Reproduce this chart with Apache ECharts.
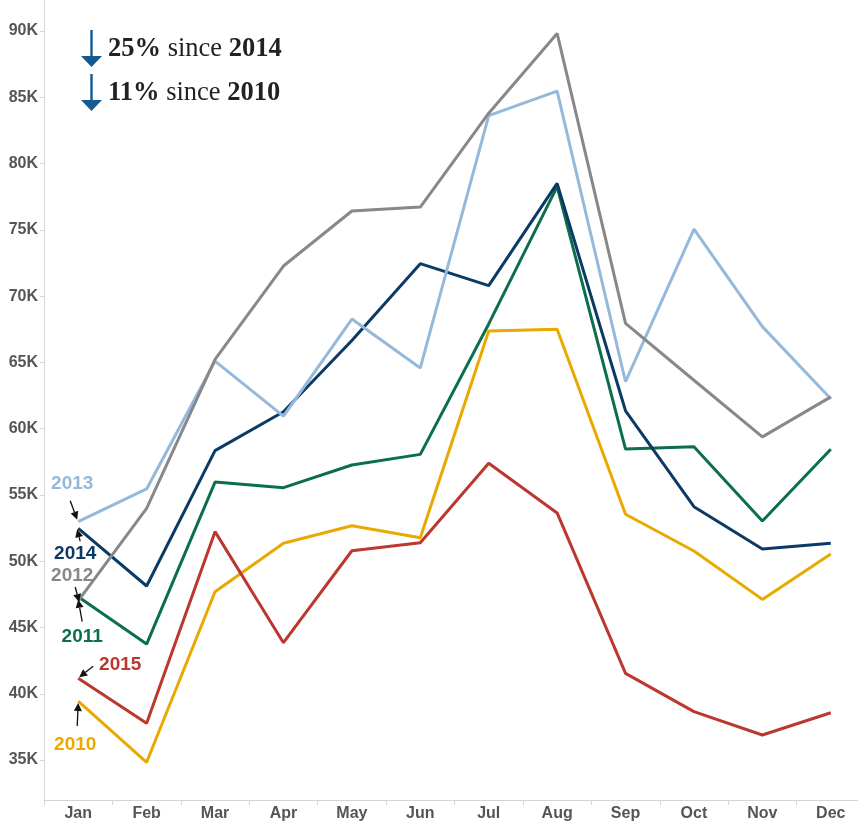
<!DOCTYPE html>
<html>
<head>
<meta charset="utf-8">
<script src="https://cdn.jsdelivr.net/npm/echarts@6/dist/echarts.min.js"></script>
<style>
  html, body { margin: 0; padding: 0; background: #fff; }
  #chart { width: 858px; height: 824px; }
</style>
</head>
<body>
<div id="chart"></div>
<script>
// Monthly totals per year
const months = ['Jan', 'Feb', 'Mar', 'Apr', 'May', 'Jun', 'Jul', 'Aug', 'Sep', 'Oct', 'Nov', 'Dec'];
const yTicks = [35000, 40000, 45000, 50000, 55000, 60000, 65000, 70000, 75000, 80000, 85000, 90000];

const y2010 = [39450, 34830, 47700, 51360, 52680, 51770, 67370, 67500, 53540, 50770, 47120, 50540];
const y2011 = [47320, 43750, 55970, 55550, 57260, 58060, 67900, 78260, 58460, 58640, 53030, 58440];
const y2012 = [47000, 53980, 65230, 72270, 76420, 76720, 83800, 89820, 67950, 63650, 59380, 62400];
const y2013 = [52980, 55450, 65100, 60950, 68270, 64580, 83610, 85470, 63540, 75060, 67700, 62250];
const y2014 = [52480, 48130, 58340, 61280, 66650, 72450, 70790, 78510, 61350, 54110, 50920, 51350];
const y2015 = [41170, 37770, 52230, 43850, 50790, 51400, 57390, 53640, 41540, 38650, 36890, 38570];

const headline1 = ['25%', ' since ', '2014'];
const headline2 = ['11%', ' since ', '2010'];

// Series styling and start-of-line callouts (offsets in px from the Jan point)
const years = [
  { name: '2010', data: y2010, color: '#e9a900', label: [-3, 44], arrow: [[-1, 25], [0, 2]] },
  { name: '2011', data: y2011, color: '#0b6e4f', label: [4, 40], arrow: [[4, 25], [0, 3]] },
  { name: '2014', data: y2014, color: '#0b3a66', label: [-3, 25], arrow: [[2, 13], [-1, 1]] },
  { name: '2013', data: y2013, color: '#94b9da', label: [-6, -38], arrow: [[-8, -21], [-1, -2]] },
  { name: '2012', data: y2012, color: '#888888', label: [-6, -25], arrow: [[-3, -14], [1, 1]] },
  { name: '2015', data: y2015, color: '#bc372f', label: [42, -13], arrow: [[15, -12], [1, -1]] }
];

const chart = echarts.init(document.getElementById('chart'), null, { renderer: 'canvas' });

const axisFont = { fontFamily: 'Liberation Sans, Arial, sans-serif', fontWeight: 'bold', fontSize: 16, color: '#555' };

chart.setOption({
  animation: false,
  backgroundColor: '#fff',
  grid: { left: 44, top: 0, width: 821, bottom: 24, containLabel: false, outerBoundsMode: 'none' },
  xAxis: {
    type: 'category',
    data: months,
    boundaryGap: true,
    axisLine: { lineStyle: { color: '#d4d4d4', width: 1 } },
    axisTick: { show: true, length: 5, lineStyle: { color: '#d4d4d4' } },
    axisLabel: Object.assign({ margin: 6 }, axisFont),
    splitLine: { show: false }
  },
  yAxis: {
    type: 'value',
    min: 31984,
    max: 92340,
    axisLine: { show: true, lineStyle: { color: '#d9d9d9', width: 1 } },
    axisTick: { show: true, length: 4, customValues: yTicks, lineStyle: { color: '#d4d4d4' } },
    axisLabel: Object.assign({
      margin: 6,
      customValues: yTicks,
      formatter: v => (v / 1000) + 'K'
    }, axisFont),
    splitLine: { show: false }
  },
  series: years.map(y => ({
    name: y.name,
    type: 'line',
    data: y.data,
    symbol: 'none',
    lineStyle: { color: y.color, width: 3 },
    itemStyle: { color: y.color },
    emphasis: { disabled: true }
  }))
});

// Callout labels and arrows anchored to each year's January point
function arrowShapes(x1, y1, x2, y2, color) {
  const dx = x2 - x1, dy = y2 - y1;
  const len = Math.sqrt(dx * dx + dy * dy) || 1;
  const ux = dx / len, uy = dy / len;
  const headLen = 8, headHalf = 4;
  const bx = x2 - ux * headLen, by = y2 - uy * headLen;
  return [
    { type: 'line', shape: { x1: x1, y1: y1, x2: bx, y2: by }, style: { stroke: color, lineWidth: 1.3 }, silent: true, z: 10 },
    { type: 'polygon', shape: { points: [[x2, y2], [bx - uy * headHalf, by + ux * headHalf], [bx + uy * headHalf, by - ux * headHalf]] }, style: { fill: color }, silent: true, z: 10 }
  ];
}

const graphics = [];
years.forEach(y => {
  const p = chart.convertToPixel({ gridIndex: 0 }, [months[0], y.data[0]]);
  graphics.push({
    type: 'text',
    x: p[0] + y.label[0],
    y: p[1] + y.label[1],
    silent: true,
    style: {
      text: y.name,
      fill: y.color,
      font: 'bold 19px "Liberation Sans", Arial, sans-serif',
      align: 'center',
      verticalAlign: 'middle'
    }
  });
  const a = y.arrow;
  arrowShapes(p[0] + a[0][0], p[1] + a[0][1], p[0] + a[1][0], p[1] + a[1][1], '#111').forEach(g => graphics.push(g));
});

// Headline: year-over-year change
const headBlue = '#115a93';
function downArrow(top, bottom) {
  return [
    { type: 'line', shape: { x1: 91.5, y1: top, x2: 91.5, y2: bottom - 10 }, style: { stroke: headBlue, lineWidth: 2.4 }, silent: true },
    { type: 'polygon', shape: { points: [[81, bottom - 11], [102, bottom - 11], [91.5, bottom]] }, style: { fill: headBlue }, silent: true }
  ];
}
downArrow(30, 67).forEach(g => graphics.push(g));
downArrow(74, 111).forEach(g => graphics.push(g));

function headline(parts, yMid) {
  return {
    type: 'text',
    x: 108,
    y: yMid,
    silent: true,
    style: {
      text: '{b|' + parts[0] + '}{r|' + parts[1] + '}{b|' + parts[2] + '}',
      verticalAlign: 'middle',
      rich: {
        b: { fontFamily: '"Liberation Serif", "Times New Roman", serif', fontWeight: 'bold', fontSize: 26.5, fill: '#222', color: '#222' },
        r: { fontFamily: '"Liberation Serif", "Times New Roman", serif', fontWeight: 'normal', fontSize: 26.5, fill: '#222', color: '#222' }
      }
    }
  };
}
graphics.push(headline(headline1, 49));
graphics.push(headline(headline2, 93));

chart.setOption({ graphic: graphics });
</script>
</body>
</html>
